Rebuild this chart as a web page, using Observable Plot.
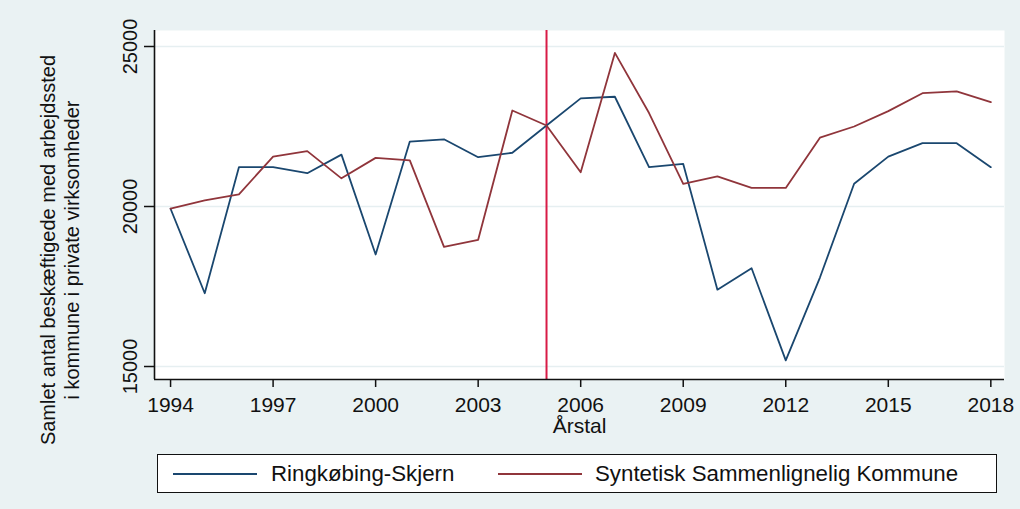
<!DOCTYPE html>
<html>
<head>
<meta charset="utf-8">
<script src="https://cdn.jsdelivr.net/npm/d3@7"></script>
<script src="https://cdn.jsdelivr.net/npm/@observablehq/plot@0.6"></script>
<style>
  body { margin: 0; background: #EAF2F3; }
  #wrap { position: relative; width: 1020px; height: 509px; background: #EAF2F3; font-family: "Liberation Sans", Arial, sans-serif; overflow: hidden; }
  #chart svg { display: block; }
  #legend { position: absolute; left: 157px; top: 454px; width: 838px; height: 37px; border: 1.5px solid #111; background: #fff; }
  .sw { position: absolute; top: 18px; height: 2px; }
  .lb { position: absolute; top: 0; line-height: 37px; font-size: 22.3px; color: #111; white-space: nowrap; }
</style>
</head>
<body>
<div id="wrap">
  <div id="chart"></div>
  <div id="legend"></div>
</div>
<script>
// ---- data ----
const years = [1994, 1995, 1996, 1997, 1998, 1999, 2000, 2001, 2002, 2003, 2004, 2005, 2006,
               2007, 2008, 2009, 2010, 2011, 2012, 2013, 2014, 2015, 2016, 2017, 2018];
const ringkobing = [19930, 17290, 21230, 21230, 21040, 21620, 18500, 22030, 22100, 21540, 21680, 22530, 23380,
                    23430, 21230, 21330, 17400, 18070, 15190, 17780, 20710, 21560, 21980, 21980, 21230];
const syntetisk = [19930, 20190, 20380, 21560, 21730, 20880, 21520, 21440, 18740, 18960, 23000, 22530, 21070,
                   24800, 22920, 20710, 20940, 20580, 20580, 22150, 22500, 22980, 23540, 23600, 23260];
const seriesNames = ["Ringkøbing-Skjern", "Syntetisk Sammenlignelig Kommune"];
const seriesColors = ["#1A476F", "#90353B"];
const xTicks = [1994, 1997, 2000, 2003, 2006, 2009, 2012, 2015, 2018];
const yTicks = [15000, 20000, 25000];
const interventionYear = [2005];
const xDomain = [1993.53, 2018.4];
const yDomain = [14594, 25500];
const xTitle = "Årstal";
const yTitle = "Samlet antal beskæftigede med arbejdssted\ni kommune i private virksomheder";

const table = years.flatMap((yr, i) => [
  { year: yr, value: ringkobing[i], series: seriesNames[0] },
  { year: yr, value: syntetisk[i], series: seriesNames[1] }
]);

const chart = Plot.plot({
  width: 1020,
  height: 509,
  marginLeft: 154,
  marginRight: 16,
  marginTop: 30,
  marginBottom: 130,
  style: { background: "transparent", fontFamily: "'Liberation Sans', Arial, sans-serif", color: "#111" },
  x: { domain: xDomain, label: null },
  y: { domain: yDomain, label: null },
  color: { domain: seriesNames, range: seriesColors },
  marks: [
    Plot.frame({ fill: "white", stroke: null }),
    Plot.gridY(yTicks, { stroke: "#E6EFF1", strokeOpacity: 1, strokeWidth: 1.5 }),
    Plot.ruleX(interventionYear, { stroke: "#D81B46", strokeWidth: 2 }),
    Plot.line(table, { x: "year", y: "value", z: "series", stroke: "series", strokeWidth: 1.8 }),
    Plot.ruleX([xDomain[0]], { stroke: "#111", strokeWidth: 1.6 }),
    Plot.ruleY([yDomain[0]], { stroke: "#111", strokeWidth: 1.6 }),
    Plot.axisY(yTicks, { tickSize: 10, tickRotate: -90, tickPadding: 8, fontSize: 20, strokeWidth: 1.5, label: null, tickFormat: d => String(d) }),
    Plot.axisX(xTicks, { tickSize: 8, tickPadding: 10, fontSize: 21, strokeWidth: 1.5, label: null, tickFormat: d => String(d) }),
    Plot.text([xTitle], { frameAnchor: "bottom", dy: 47, fontSize: 21, lineAnchor: "middle" }),
    Plot.text([yTitle], { frameAnchor: "left", rotate: -90, textAnchor: "middle", dx: -95, dy: 45, fontSize: 20, lineHeight: 1.2, lineAnchor: "middle" })
  ]
});
document.getElementById("chart").appendChild(chart);

// ---- legend ----
const legend = document.getElementById("legend");
const swX = [15, 340];
const lbX = [113, 437];
seriesNames.forEach((name, i) => {
  const sw = document.createElement("div");
  sw.className = "sw";
  sw.style.left = swX[i] + "px";
  sw.style.width = "84px";
  sw.style.background = seriesColors[i];
  legend.appendChild(sw);
  const lb = document.createElement("div");
  lb.className = "lb";
  lb.style.left = lbX[i] + "px";
  lb.textContent = name;
  legend.appendChild(lb);
});
</script>
</body>
</html>
